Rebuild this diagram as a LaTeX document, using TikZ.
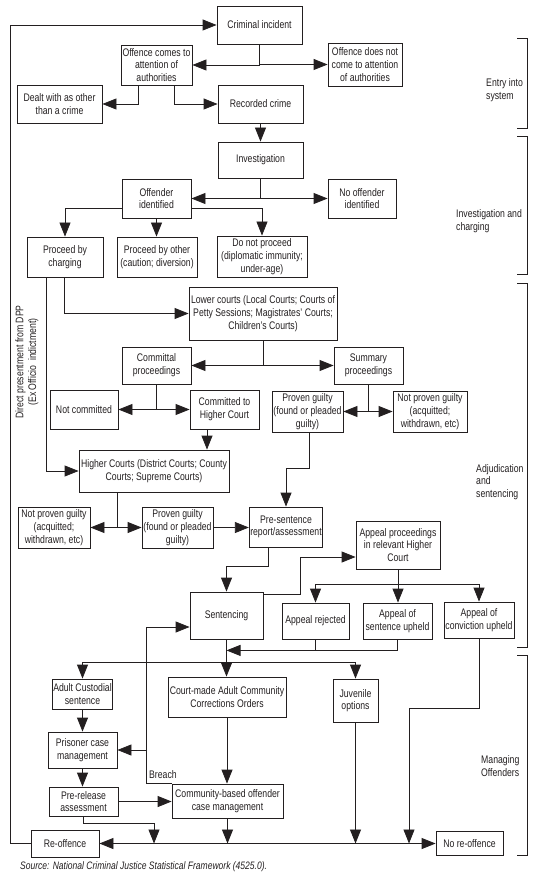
\documentclass[tikz,border=0pt]{standalone}
\usepackage{fontspec}
\setmainfont{Liberation Sans}[FakeStretch=0.79]
\usetikzlibrary{arrows.meta}
\definecolor{ink}{HTML}{231F20}
\newcommand\dgfont{\fontsize{11}{12.7}\selectfont}
\begin{document}
\begin{tikzpicture}[x=1pt,y=-1pt,
  box/.style={draw=ink, line width=0.8pt, align=center, inner sep=1pt, text=ink, font=\dgfont},
  wh/.style 2 args={minimum width=#1pt, minimum height=#2pt},
  lab/.style={align=left, inner sep=0pt, text=ink, font=\dgfont},
  con/.style={draw=ink, line width=0.8pt},
  arr/.style={con, -{Triangle[length=14pt,width=11pt]}},
  arrs/.style={con, {Triangle[length=14pt,width=11pt]}-{Triangle[length=14pt,width=11pt]}},
  brk/.style={draw=ink, line width=0.8pt}]
\useasboundingbox (0,0) rectangle (537,882);
% nodes
\node[box, wh={85}{38}] (ci) at (259.5,25) {Criminal incident};
\node[box, wh={71}{40}] (oca) at (156.5,65) {Offence comes to\\attention of\\authorities};
\node[box, wh={74}{43}] (ocn) at (365,64.5) {Offence does not\\come to attention\\of authorities};
\node[box, wh={85}{38}] (dealt) at (59.5,104) {Dealt with as other\\than a crime};
\node[box, wh={85}{38}] (rec) at (260.5,104) {Recorded crime};
\node[box, wh={85}{36}] (inv) at (260.5,160) {Investigation};
\node[box, wh={69}{39}] (oid) at (156.5,198.5) {Offender\\identified};
\node[box, wh={68}{39}] (noid) at (362,198.5) {No offender\\identified};
\node[box, wh={76}{40}] (pbc) at (65,257) {Proceed by\\charging};
\node[box, wh={80}{40}] (pbo) at (157,257) {Proceed by other\\(caution; diversion)};
\node[box, wh={90}{41}] (dnp) at (262,256.5) {Do not proceed\\(diplomatic immunity;\\under-age)};
\node[box, wh={148}{53}] (lc) at (263,313.5) {Lower courts (Local Courts; Courts of\\Petty Sessions; Magistrates' Courts;\\Children's Courts)};
\node[box, wh={69}{37}] (cp) at (156.5,365.5) {Committal\\proceedings};
\node[box, wh={69}{37}] (sp) at (368.5,365.5) {Summary\\proceedings};
\node[box, wh={68}{39}] (nc) at (84,409.5) {Not committed};
\node[box, wh={69}{39}] (cthc) at (224.5,409.5) {Committed to\\Higher Court};
\node[box, wh={71}{41}] (pgs) at (307.5,411.5) {Proven guilty\\(found or pleaded\\guilty)};
\node[box, wh={74}{41}] (npgs) at (430,411.5) {Not proven guilty\\(acquitted;\\withdrawn, etc)};
\node[box, wh={150}{42}] (hc) at (154,471) {Higher Courts (District Courts; County\\Courts; Supreme Courts)};
\node[box, wh={72}{41}] (npgh) at (54,527.5) {Not proven guilty\\(acquitted;\\withdrawn, etc)};
\node[box, wh={71}{41}] (pgh) at (177.5,527.5) {Proven guilty\\(found or pleaded\\guilty)};
\node[box, wh={70}{40}] (psr) at (286,527) {Pre-sentence\\report/assessment};
\node[box, wh={84}{48}] (app) at (398,545) {Appeal proceedings\\in relevant Higher\\Court};
\node[box, wh={73}{47}] (sent) at (226.5,615.5) {Sentencing};
\node[box, wh={67}{36}] (arj) at (315.5,621) {Appeal rejected};
\node[box, wh={69}{36}] (asu) at (397.5,621) {Appeal of\\sentence upheld};
\node[box, wh={70}{36}] (acu) at (479,620) {Appeal of\\conviction upheld};
\node[box, wh={59}{30}] (acs) at (82.5,694) {Adult Custodial\\sentence};
\node[box, wh={118}{40}] (cmo) at (227,697) {Court-made Adult Community\\Corrections Orders};
\node[box, wh={45}{43}] (juv) at (355.5,700.5) {Juvenile\\options};
\node[box, wh={69}{36}] (pcm) at (82.5,750) {Prisoner case\\management};
\node[box, wh={69}{29}] (pra) at (83.5,801.5) {Pre-release\\assessment};
\node[box, wh={111}{34}] (cbo) at (227.5,801) {Community-based offender\\case management};
\node[box, wh={68}{27}] (reo) at (65,843.5) {Re-offence};
\node[box, wh={67}{24}] (nro) at (469.5,843.5) {No re-offence};
% labels
\node[lab, anchor=west] (l1) at (486,90) {Entry into\\system};
\node[lab, anchor=west] (l2) at (456,221) {Investigation and\\charging};
\node[lab, anchor=west] (l3) at (476,482) {Adjudication\\and\\sentencing};
\node[lab, anchor=west] (l4) at (481,766) {Managing\\Offenders};
\node[lab, align=center, rotate=90] (dpp) at (27,362) {Direct presentment from DPP\\(Ex Officio\ \ indictment)};
\node[lab, anchor=west] (breach) at (149,775) {Breach};
\node[lab, anchor=west, font=\fontsize{10.8}{12}\selectfont\itshape] (src) at (20,867) {Source: National Criminal Justice Statistical Framework (4525.0).};
% brackets
\draw[brk] (517,38) -- (527,38) -- (527,128) -- (517,128);
\draw[brk] (517,136) -- (527,136) -- (527,274) -- (517,274);
\draw[brk] (517,283) -- (527,283) -- (527,647) -- (517,647);
\draw[brk] (517,655) -- (527,655) -- (527,855) -- (517,855);
% coordinates
\coordinate (k1) at (154,843.5);
\coordinate (k4) at (409,843.5);
\coordinate (brj) at (147,750);
% connectors
\draw[arr] (ci.south) |- (oca.east);
\draw[arr] (ci.south) |- (ocn.west);
\draw[arr] ([xshift=-18.5pt]oca.south) |- (dealt.east);
\draw[arr] ([xshift=17.5pt]oca.south) |- (rec.west);
\draw[arr] (rec.south) -- (inv.north);
\draw[arr] (inv.south) |- (oid.east);
\draw[arr] (inv.south) |- (noid.west);
\draw[arr] ([yshift=-9.5pt]oid.west) -| (pbc.north);
\draw[arr] (oid.south) -- (oid.south |- pbo.north);
\draw[arr] ([yshift=-9.5pt]oid.east) -| (dnp.north);
\draw[arr] ([xshift=-1pt]pbc.south) |- (lc.west);
\draw[arr] ([xshift=-19pt]pbc.south) |- (hc.west);
\draw[arr] (lc.south) |- (cp.east);
\draw[arr] (lc.south) |- (sp.west);
\draw[arr] (cp.south) |- (nc.east);
\draw[arr] (cp.south) |- (cthc.west);
\draw[arr] ([xshift=-17.5pt]cthc.south) -- ([xshift=-17.5pt]cthc.south |- hc.north);
\draw[arr] (sp.south) |- (pgs.east);
\draw[arr] (sp.south) |- (npgs.west);
\draw[arr] ([xshift=1.5pt]pgs.south) -- ++(0,36) -| (psr.north);
\draw[arr] ([xshift=-37pt]hc.south) |- (npgh.east);
\draw[arr] ([xshift=-37pt]hc.south) |- (pgh.west);
\draw[arr] (pgh.east) -- (pgh.east -| psr.west);
\draw[arr] ([xshift=-18pt]psr.south) -- ++(0,19) -| (sent.north);
\draw[arr] ([yshift=-3pt]sent.north east) -- ++(37,0) |- ([yshift=-12pt]app.west);
\draw[arr] (app.south) -- ++(0,15) -| (arj.north);
\draw[arr] (app.south) -- ++(0,15) -| (acu.north);
\draw[arr] (app.south) -- (app.south |- asu.north);
\draw[con] (arj.south) -- ++(0,11);
\draw[arr] (asu.south) -- ++(0,11) -- ([yshift=-11pt]sent.south);
\draw[arr] (sent.south) -- (sent.south |- cmo.north);
\draw[arr] (sent.south) -- ++(0,23) -| (acs.north);
\draw[arr] (sent.south) -- ++(0,23) -| (juv.north);
\draw[arr] (acs.south) -- (pcm.north);
\draw[arr] (pcm.south) -- (pcm.south |- pra.north);
\draw[arr] (pra.east) -- (pra.east -| cbo.west);
\draw[arr] (cmo.south) -- (cmo.south |- cbo.north);
\draw[arr] (cbo.north west) -- ++(-25,0) |- ([yshift=-11.5pt]sent.west);
\draw[arr] (brj) -- (pcm.east);
\draw[arr] (pra.south) -- ++(0,7) -| (k1);
\draw[arr] (cbo.south) -- (cbo.south |- reo.east);
\draw[arr] (juv.south) -- (juv.south |- reo.east);
\draw[arr] (acu.south) -- ++(0,70) -| (k4);
\draw[arrs] (reo.east) -- (nro.west);
\draw[arr] (reo.west) -- ++(-20,0) |- (ci.west);
\end{tikzpicture}
\end{document}
